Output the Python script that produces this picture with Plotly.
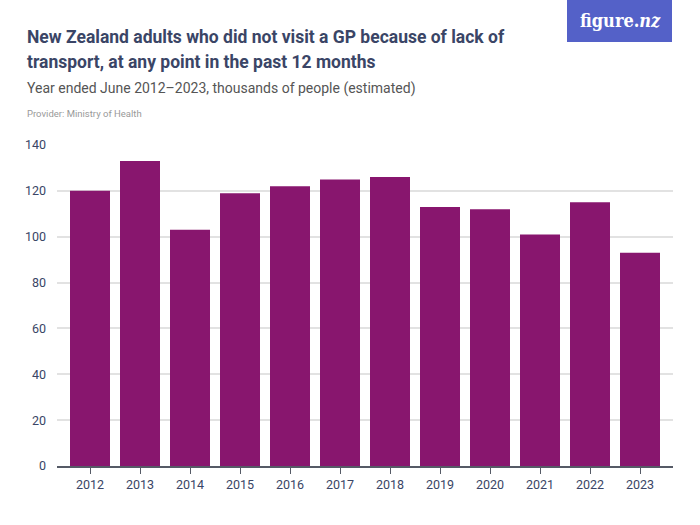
import plotly.graph_objects as go

years = ["2012", "2013", "2014", "2015", "2016", "2017", "2018", "2019", "2020", "2021", "2022", "2023"]
values = [120, 133, 103, 119, 122, 125, 126, 113, 112, 101, 115, 93]
y_ticks = [0, 20, 40, 60, 80, 100, 120, 140]

title_line1 = "New Zealand adults who did not visit a GP because of lack of"
title_line2 = "transport, at any point in the past 12 months"
subtitle = "Year ended June 2012–2023, thousands of people (estimated)"
provider = "Provider: Ministry of Health"

FONT = "Roboto, sans-serif"
L, R, T, B = 57, 27, 145, 59
W, H = 700, 525
PW, PH = W - L - R, H - T - B


def px(x):
    return (x - L) / PW


def py(y):
    return (H - B - y) / PH


fig = go.Figure()
fig.add_trace(go.Bar(
    x=years, y=values,
    marker=dict(color="#88166E", line=dict(width=0)),
    hoverinfo="x+y",
))

fig.update_layout(
    width=W, height=H,
    margin=dict(l=L, r=R, t=T, b=B),
    paper_bgcolor="white", plot_bgcolor="white",
    bargap=0.2,
    showlegend=False,
    font=dict(family=FONT, color="#3a4566"),
    xaxis=dict(
        type="category",
        range=[-0.66, 11.66],
        showgrid=False,
        showline=True, linecolor="#555a66", linewidth=1.5,
        ticks="outside", ticklen=6, tickcolor="#555a66",
        tickfont=dict(size=12.5, color="#3a4566", family=FONT),
        fixedrange=True,
    ),
    yaxis=dict(
        range=[0, 140],
        tickvals=y_ticks,
        showgrid=True, gridcolor="#e2e2e2", gridwidth=1.5,
        zeroline=False,
        showline=False,
        ticks="", ticklabelstandoff=10,
        tickfont=dict(size=12.5, color="#3a4566", family=FONT),
        fixedrange=True,
    ),
)

# Title block
fig.add_annotation(text="<b>" + title_line1 + "</b>", xref="paper", yref="paper",
                   x=px(25), y=py(37), xanchor="left", yanchor="middle",
                   showarrow=False, font=dict(size=17.5, color="#3a4566", family=FONT))
fig.add_annotation(text="<b>" + title_line2 + "</b>", xref="paper", yref="paper",
                   x=px(25), y=py(62), xanchor="left", yanchor="middle",
                   showarrow=False, font=dict(size=17.5, color="#3a4566", family=FONT))
fig.add_annotation(text=subtitle, xref="paper", yref="paper",
                   x=px(25), y=py(88), xanchor="left", yanchor="middle",
                   showarrow=False, font=dict(size=14, color="#555555", family=FONT))
fig.add_annotation(text=provider, xref="paper", yref="paper",
                   x=px(25), y=py(113), xanchor="left", yanchor="middle",
                   showarrow=False, font=dict(size=9.5, color="#999999", family=FONT))

# Logo
fig.add_shape(type="rect", xref="paper", yref="paper",
              x0=px(567), x1=px(672), y0=py(42), y1=py(-2),
              fillcolor="#5461C8", line=dict(width=0), layer="above")
fig.add_annotation(text="<b>figure.<i>nz</i></b>", xref="paper", yref="paper",
                   x=px(620), y=py(20), xanchor="center", yanchor="middle",
                   showarrow=False,
                   font=dict(size=18, color="white", family="DejaVu Serif Condensed, Liberation Serif, serif"))

fig.write_html("out.html")
